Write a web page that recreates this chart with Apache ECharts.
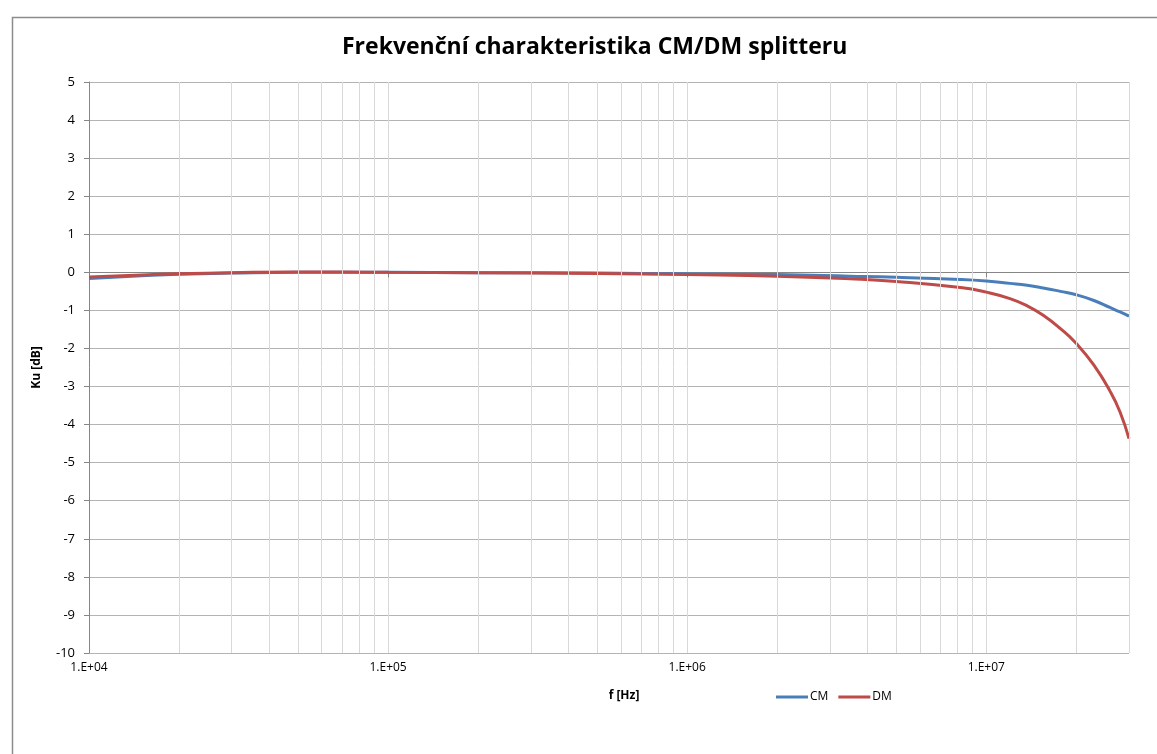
<!DOCTYPE html>
<html>
<head>
<meta charset="utf-8">
<script src="https://cdn.jsdelivr.net/npm/echarts@6/dist/echarts.min.js"></script>
<style>html,body{margin:0;padding:0;background:#fff;}#chart{width:1157px;height:754px;}</style>
</head>
<body>
<div id="chart"></div>
<script>
// Frequencies [Hz]
const freqs = [1e4, 1.5e4, 2e4, 3e4, 5e4, 7e4, 1e5, 2e5, 5e5, 1e6, 2e6, 3.5e6, 5e6, 8.2e6, 1e7, 1.2e7, 1.37e7, 1.55e7, 1.77e7, 2e7, 2.29e7, 2.6e7, 2.8e7, 3e7];
// Ku [dB]
const cmValues = [-0.16, -0.09, -0.05, -0.02, 0.0, 0.0, 0.0, -0.01, -0.02, -0.04, -0.06, -0.10, -0.13, -0.19, -0.23, -0.29, -0.34, -0.41, -0.50, -0.59, -0.74, -0.93, -1.04, -1.15];
const dmValues = [-0.12, -0.07, -0.04, -0.01, 0.01, 0.01, 0.0, -0.01, -0.03, -0.06, -0.10, -0.17, -0.24, -0.40, -0.52, -0.69, -0.88, -1.13, -1.48, -1.87, -2.44, -3.14, -3.67, -4.37];
// Minor vertical grid positions (2..9 times each decade)
const decades = [1e4, 1e5, 1e6, 1e7];
const minorMultipliers = [2, 3, 4, 5, 6, 7, 8, 9];
const xMin = 1e4, xMax = 3e7;

const minorLines = [];
decades.forEach(d => minorMultipliers.forEach(m => { const v = d * m; if (v <= xMax) minorLines.push({ xAxis: v }); }));

const chart = echarts.init(document.getElementById('chart'));
const font = 'Open Sans';
chart.setOption({
  animation: false,
  backgroundColor: '#fff',
  graphic: [{
    type: 'rect', left: 10, top: 15, silent: true,
    shape: { width: 1170, height: 770 },
    style: { fill: 'none', stroke: '#8c8c8c', lineWidth: 1.5 }
  }],
  title: {
    text: 'Frekvenční charakteristika CM/DM splitteru',
    left: 337, top: 31,
    textStyle: { fontFamily: font, fontSize: 23, fontWeight: 'bold', color: '#000' }
  },
  legend: {
    data: ['CM', 'DM'],
    left: 771, top: 686,
    icon: 'rect', itemWidth: 32, itemHeight: 3, itemGap: 10,
    textStyle: { fontFamily: font, fontSize: 12, color: '#000', padding: [0, 0, 0, -3] }
  },
  grid: { left: 89, right: 28, top: 82, bottom: 101 },
  xAxis: {
    type: 'log', logBase: 10, min: xMin, max: xMax,
    name: 'f [Hz]', nameLocation: 'middle', nameGap: 37,
    nameTextStyle: { fontFamily: font, fontSize: 12, fontWeight: 'bold', color: '#000', padding: [0, 0, 0, 30] },
    axisLine: { show: true, lineStyle: { color: '#868686', width: 1 } },
    axisTick: { show: true, length: 5, lineStyle: { color: '#868686' } },
    axisLabel: {
      fontFamily: font, fontSize: 12, color: '#000', margin: 9,
      formatter: v => {
        const e = Math.round(Math.log10(v));
        if (Math.abs(v - Math.pow(10, e)) / v > 1e-6) return '';
        return '1.E+' + String(e).padStart(2, '0');
      }
    },
    splitLine: { show: true, lineStyle: { color: '#d9d9d9', width: 1 } }
  },
  yAxis: {
    type: 'value', min: -10, max: 5, interval: 1,
    name: 'Ku [dB]', nameLocation: 'middle', nameGap: 46,
    nameTextStyle: { fontFamily: font, fontSize: 12, fontWeight: 'bold', color: '#000' },
    axisLine: { show: true, lineStyle: { color: '#868686', width: 1 } },
    axisTick: { show: true, length: 5, lineStyle: { color: '#868686' } },
    axisLabel: { fontFamily: font, fontSize: 13, color: '#000', margin: 14 },
    splitLine: { show: true, lineStyle: { color: '#b4b4b4', width: 1 } }
  },
  series: [
    {
      name: 'grid', type: 'line', data: [], z: 1, silent: true,
      markLine: {
        silent: true, symbol: 'none', animation: false,
        label: { show: false },
        lineStyle: { color: '#d9d9d9', width: 1, type: 'solid' },
        data: minorLines
      }
    },
    {
      name: 'CM', type: 'line', smooth: 0.5, showSymbol: false, z: 3,
      data: freqs.map((f, i) => [f, cmValues[i]]),
      itemStyle: { color: '#4a7ebb' },
      lineStyle: { color: '#4a7ebb', width: 3 }
    },
    {
      name: 'DM', type: 'line', smooth: 0.5, showSymbol: false, z: 4,
      data: freqs.map((f, i) => [f, dmValues[i]]),
      itemStyle: { color: '#be4b48' },
      lineStyle: { color: '#be4b48', width: 3 }
    }
  ]
});
</script>
</body>
</html>
